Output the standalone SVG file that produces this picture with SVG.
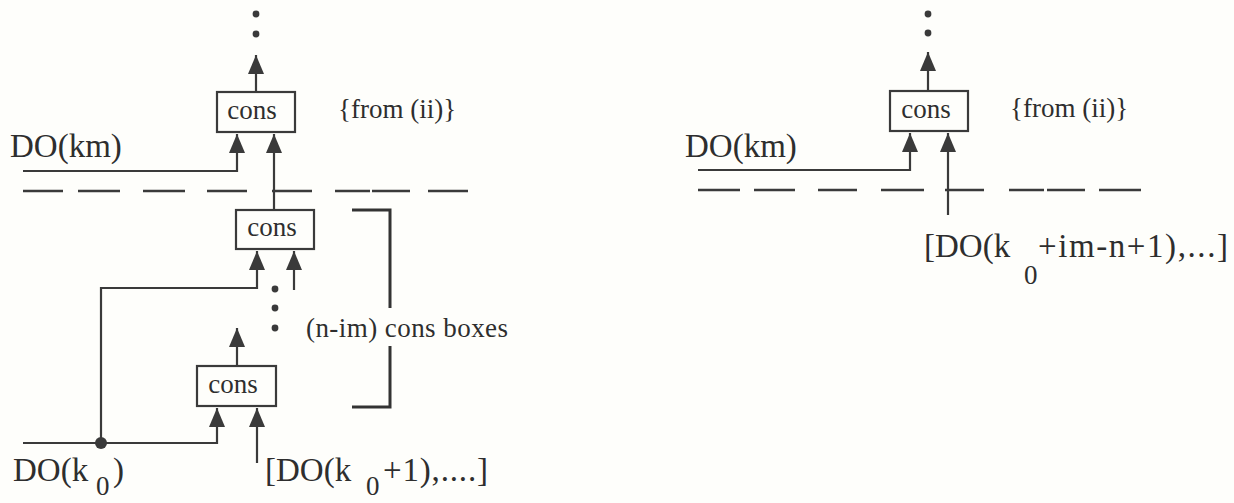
<svg xmlns="http://www.w3.org/2000/svg" width="1234" height="503" viewBox="0 0 1234 503">
<defs>
<marker id="ah" viewBox="0 0 19 16" refX="19" refY="8" markerWidth="19" markerHeight="16" markerUnits="userSpaceOnUse" orient="auto">
<path d="M0,0 L19,8 L0,16 Z" fill="#3a3a3a"/>
</marker>
<style>
.box{fill:#fefefb;stroke:#3a3a3a;stroke-width:2.2}
.ln{fill:none;stroke:#3a3a3a;stroke-width:2.2}
.dash{fill:none;stroke:#3a3a3a;stroke-width:2.6}
.br{fill:none;stroke:#333;stroke-width:3}
.dot{fill:#3a3a3a}
.t{font-family:"Liberation Serif","Times New Roman",serif;fill:#2e2e2e}
.big{font-size:33px}
.mid{font-size:27px}
.sub{font-size:27px}
</style>
</defs>
<rect width="1234" height="503" fill="#fefefb"/>

<g id="left-top-cons">
<rect class="box" x="217" y="92" width="78" height="40"/>
<text class="t mid" x="252" y="119" text-anchor="middle">cons</text>
</g>
<g id="left-mid-cons">
<rect class="box" x="236" y="210" width="78" height="39"/>
<text class="t mid" x="272" y="236" text-anchor="middle">cons</text>
</g>
<g id="left-bottom-cons">
<rect class="box" x="197" y="366" width="79" height="40"/>
<text class="t mid" x="233" y="393" text-anchor="middle">cons</text>
</g>
<g id="right-cons">
<rect class="box" x="890" y="91" width="78" height="40"/>
<text class="t mid" x="926" y="118" text-anchor="middle">cons</text>
</g>

<g id="labels">
<text class="t big" x="10" y="157">DO(km)</text>
<text class="t mid" x="338" y="118">{from (ii)}</text>
<text class="t mid" x="306" y="337" textLength="202">(n-im) cons boxes</text>
<text class="t big" x="13" y="481">DO(k</text>
<text class="t sub" x="96" y="495">0</text>
<text class="t big" x="113" y="481">)</text>
<text class="t big" x="265" y="481">[DO(k</text>
<text class="t sub" x="366" y="495">0</text>
<text class="t big" x="383" y="481" textLength="105">+1),....]</text>
<text class="t big" x="685" y="157">DO(km)</text>
<text class="t mid" x="1010" y="117">{from (ii)}</text>
<text class="t big" x="924" y="257">[DO(k</text>
<text class="t sub" x="1024" y="284">0</text>
<text class="t big" x="1038" y="257" textLength="190">+im-n+1),...]</text>
</g>

<g id="dividers">
<path class="dash" d="M23,191 H63 M78,191 H120 M143,191 H185 M207,191 H247 M272,191 H312 M335,191 H370 M372,191 H410 M428,191 H468"/>
<path class="dash" d="M698,190 H740 M754,190 H795 M818,190 H857 M881,190 H924 M945,190 H984 M1009,190 H1044 M1047,190 H1085 M1099,190 H1141"/>
<path class="br" d="M352,210 H390 V308 M390,346 V407 H352"/>
</g>

<g id="ellipses">
<circle class="dot" cx="256" cy="14" r="3.4"/>
<circle class="dot" cx="256" cy="34" r="3.4"/>
<circle class="dot" cx="275" cy="289" r="3.4"/>
<circle class="dot" cx="275" cy="308" r="3.4"/>
<circle class="dot" cx="275" cy="328" r="3.4"/>
<circle class="dot" cx="928" cy="14" r="3.4"/>
<circle class="dot" cx="928" cy="33" r="3.4"/>
</g>

<g id="connectors">
<path class="ln" d="M256,92 V55" marker-end="url(#ah)"/>
<path class="ln" d="M23,171 H237 V134" marker-end="url(#ah)"/>
<path class="ln" d="M274,210 V134" marker-end="url(#ah)"/>
<path class="ln" d="M101,443 V288 H257 V251" marker-end="url(#ah)"/>
<path class="ln" d="M294,290 V251" marker-end="url(#ah)"/>
<path class="ln" d="M237,366 V328" marker-end="url(#ah)"/>
<path class="ln" d="M23,443 H217 V408" marker-end="url(#ah)"/>
<path class="ln" d="M257,463 V408" marker-end="url(#ah)"/>
<circle class="dot" cx="101" cy="443" r="6"/>
<path class="ln" d="M928,91 V52" marker-end="url(#ah)"/>
<path class="ln" d="M698,170 H910 V133" marker-end="url(#ah)"/>
<path class="ln" d="M948,215 V133" marker-end="url(#ah)"/>
</g>
</svg>
